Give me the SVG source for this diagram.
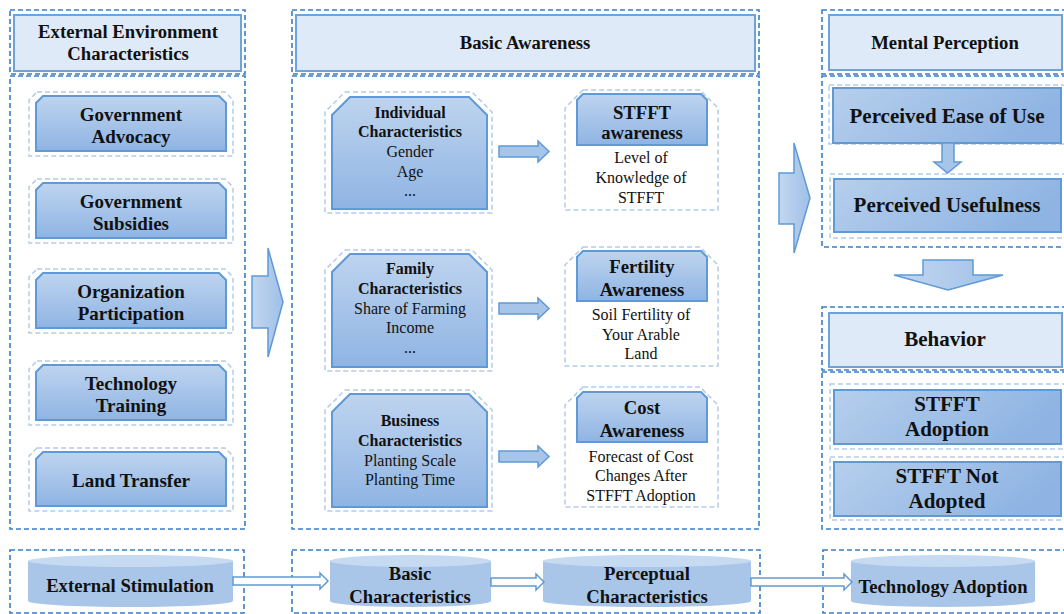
<svg xmlns="http://www.w3.org/2000/svg" width="1064" height="614" viewBox="0 0 1064 614">
<defs>
<linearGradient id="gv" x1="0" y1="0" x2="0" y2="1"><stop offset="0" stop-color="#bed4ef"/><stop offset="1" stop-color="#8fb4e3"/></linearGradient>
<linearGradient id="gh" x1="0" y1="0" x2="1" y2="0.3"><stop offset="0" stop-color="#b6cfec"/><stop offset="1" stop-color="#8fb4e3"/></linearGradient>
<linearGradient id="ga" x1="0" y1="0" x2="1" y2="0"><stop offset="0" stop-color="#c3d7f0"/><stop offset="1" stop-color="#9fc0e8"/></linearGradient>
<style>
.box{fill:none;stroke:#3a7cc7;stroke-width:1.6;stroke-dasharray:5 3}
.lbox{fill:none;stroke:#b3cbe9;stroke-width:1.5;stroke-dasharray:5 3}
.hdr{fill:#deeaf7;stroke:#6ea2da;stroke-width:2}
.node{fill:url(#gv);stroke:#5f9ad6;stroke-width:2}
.pnode{fill:url(#gh);stroke:#5f9ad6;stroke-width:2}
.wnode{fill:#fff;stroke:#b3cbe9;stroke-width:1.5;stroke-dasharray:5 3}
.big{fill:url(#ga);stroke:#5f9ad6;stroke-width:1.5}
.sm{fill:#a7c4e9;stroke:#5f9ad6;stroke-width:1.5}
.hol{fill:#fff;stroke:#5f9ad6;stroke-width:1.5}
.cyl{fill:#a9c6e9}
.cyltop{fill:#c6daf1}
text{font-family:"Liberation Serif","Times New Roman",serif;fill:#111;text-anchor:middle}
.b{font-weight:bold}
.h{font-size:18.7px}
.n{font-size:19px}
.s{font-size:16px}
.p{font-size:21px}
</style>
</defs>

<g id="external-environment">
<rect class="box" x="10" y="10" width="235" height="64"/>
<rect class="hdr" x="14" y="15" width="227" height="56"/>
<text class="b h" x="128" y="38">External Environment</text>
<text class="b h" x="128" y="60">Characteristics</text>
<rect class="box" x="10" y="76" width="235" height="453"/>
</g>

<g id="gov-advocacy">
<polygon class="lbox" points="37,92 225,92 233,100 233,156 29,156 29,100"/>
<polygon class="node" points="43,96 219,96 226,103 226,151 36,151 36,103"/>
<text class="b n" x="131" y="121">Government</text>
<text class="b n" x="131" y="143">Advocacy</text>
</g>
<g id="gov-subsidies">
<polygon class="lbox" points="37,179 225,179 233,187 233,243 29,243 29,187"/>
<polygon class="node" points="43,183 219,183 226,190 226,238 36,238 36,190"/>
<text class="b n" x="131" y="208">Government</text>
<text class="b n" x="131" y="230">Subsidies</text>
</g>
<g id="org-participation">
<polygon class="lbox" points="37,269 225,269 233,277 233,333 29,333 29,277"/>
<polygon class="node" points="43,273 219,273 226,280 226,328 36,328 36,280"/>
<text class="b n" x="131" y="298">Organization</text>
<text class="b n" x="131" y="320">Participation</text>
</g>
<g id="tech-training">
<polygon class="lbox" points="37,361 225,361 233,369 233,425 29,425 29,369"/>
<polygon class="node" points="43,365 219,365 226,372 226,420 36,420 36,372"/>
<text class="b n" x="131" y="390">Technology</text>
<text class="b n" x="131" y="412">Training</text>
</g>
<g id="land-transfer">
<polygon class="lbox" points="37,448 225,448 233,456 233,511 29,511 29,456"/>
<polygon class="node" points="43,452 219,452 226,459 226,506 36,506 36,459"/>
<text class="b n" x="131" y="487">Land Transfer</text>
</g>

<g id="basic-awareness">
<rect class="box" x="292" y="10" width="467" height="64"/>
<rect class="hdr" x="296" y="15" width="459" height="56"/>
<text class="b h" x="525" y="49">Basic Awareness</text>
<rect class="box" x="292" y="76" width="467" height="453"/>
</g>

<g id="individual">
<polygon class="lbox" points="345,92 472,92 492,112 492,213 325,213 325,112"/>
<polygon class="node" points="350,97 469,97 487,115 487,209 332,209 332,115"/>
<text class="b s" x="410" y="118">Individual</text>
<text class="b s" x="410" y="137">Characteristics</text>
<text class="s" x="410" y="157">Gender</text>
<text class="s" x="410" y="177">Age</text>
<text class="s" x="410" y="196">...</text>
</g>
<g id="family">
<polygon class="lbox" points="345,250 472,250 492,270 492,371 325,371 325,270"/>
<polygon class="node" points="350,254 469,254 487,272 487,367 332,367 332,272"/>
<text class="b s" x="410" y="274">Family</text>
<text class="b s" x="410" y="294">Characteristics</text>
<text class="s" x="410" y="314">Share of Farming</text>
<text class="s" x="410" y="333">Income</text>
<text class="s" x="410" y="353">...</text>
</g>
<g id="business">
<polygon class="lbox" points="345,390 472,390 492,410 492,511 325,511 325,410"/>
<polygon class="node" points="350,394 469,394 487,412 487,507 332,507 332,412"/>
<text class="b s" x="410" y="426">Business</text>
<text class="b s" x="410" y="446">Characteristics</text>
<text class="s" x="410" y="466">Planting Scale</text>
<text class="s" x="410" y="485">Planting Time</text>
</g>

<g id="stfft-awareness">
<polygon class="wnode" points="583,90 700,90 718,108 718,210 565,210 565,108"/>
<polygon class="node" points="583,94 701,94 707,100 707,145 577,145 577,100"/>
<text class="b h" x="642" y="119">STFFT</text>
<text class="b h" x="642" y="139">awareness</text>
<text class="s" x="641" y="163">Level of</text>
<text class="s" x="641" y="183">Knowledge of</text>
<text class="s" x="641" y="203">STFFT</text>
</g>
<g id="fertility-awareness">
<polygon class="wnode" points="583,247 700,247 718,265 718,366 565,366 565,265"/>
<polygon class="node" points="583,251 701,251 707,257 707,301 577,301 577,257"/>
<text class="b h" x="642" y="273">Fertility</text>
<text class="b h" x="642" y="296">Awareness</text>
<text class="s" x="641" y="320">Soil Fertility of</text>
<text class="s" x="641" y="340">Your Arable</text>
<text class="s" x="641" y="359">Land</text>
</g>
<g id="cost-awareness">
<polygon class="wnode" points="583,387 700,387 718,405 718,507 565,507 565,405"/>
<polygon class="node" points="583,392 701,392 707,398 707,442 577,442 577,398"/>
<text class="b h" x="642" y="414">Cost</text>
<text class="b h" x="642" y="437">Awareness</text>
<text class="s" x="641" y="462">Forecast of Cost</text>
<text class="s" x="641" y="481">Changes After</text>
<text class="s" x="641" y="501">STFFT Adoption</text>
</g>

<g id="mental-perception">
<rect class="box" x="822" y="10" width="250" height="64"/>
<rect class="hdr" x="829" y="15" width="233" height="55"/>
<text class="b h" x="945" y="49">Mental Perception</text>
<rect class="box" x="822" y="76" width="250" height="171"/>
</g>
<g id="ease-of-use">
<rect class="lbox" x="829" y="85" width="240" height="59"/>
<rect class="pnode" x="833" y="88" width="228" height="55"/>
<text class="b p" x="947" y="123">Perceived Ease of Use</text>
</g>
<g id="usefulness">
<rect class="lbox" x="830" y="174" width="240" height="64"/>
<rect class="pnode" x="834" y="179" width="227" height="53"/>
<text class="b p" x="947" y="212">Perceived Usefulness</text>
</g>

<g id="behavior">
<rect class="box" x="822" y="307" width="250" height="63"/>
<rect class="hdr" x="829" y="313" width="233" height="54"/>
<text class="b p" x="945" y="346">Behavior</text>
<rect class="box" x="822" y="372" width="250" height="157"/>
</g>
<g id="adoption">
<rect class="lbox" x="830" y="384" width="240" height="65"/>
<rect class="pnode" x="834" y="390" width="227" height="54"/>
<text class="b p" x="947" y="411">STFFT</text>
<text class="b p" x="947" y="436">Adoption</text>
</g>
<g id="not-adopted">
<rect class="lbox" x="830" y="457" width="240" height="63"/>
<rect class="pnode" x="834" y="462" width="227" height="54"/>
<text class="b p" x="947" y="483">STFFT Not</text>
<text class="b p" x="947" y="508">Adopted</text>
</g>

<g id="bottom-boxes">
<rect class="box" x="10" y="550" width="234" height="63"/>
<rect class="box" x="292" y="550" width="468" height="63"/>
<rect class="box" x="823" y="550" width="250" height="63"/>
</g>
<g id="external-stimulation">
<path class="cyl" d="M28,561 L28,601 A102.5,6 0 0 0 233,601 L233,561 Z"/>
<ellipse class="cyltop" cx="130.5" cy="561" rx="102.5" ry="6"/>
<text class="b h" x="130" y="592">External Stimulation</text>
</g>
<g id="basic-characteristics">
<path class="cyl" d="M330,561 L330,601 A80.5,6 0 0 0 491,601 L491,561 Z"/>
<ellipse class="cyltop" cx="410.5" cy="561" rx="80.5" ry="6"/>
<text class="b h" x="410" y="580">Basic</text>
<text class="b h" x="410" y="603">Characteristics</text>
</g>
<g id="perceptual-characteristics">
<path class="cyl" d="M543,561 L543,601 A104,6 0 0 0 751,601 L751,561 Z"/>
<ellipse class="cyltop" cx="647" cy="561" rx="104" ry="6"/>
<text class="b h" x="647" y="580">Perceptual</text>
<text class="b h" x="647" y="603">Characteristics</text>
</g>
<g id="technology-adoption">
<path class="cyl" d="M851,561 L851,601 A92,6 0 0 0 1035,601 L1035,561 Z"/>
<ellipse class="cyltop" cx="943" cy="561" rx="92" ry="6"/>
<text class="b h" x="943" y="593">Technology Adoption</text>
</g>

<g id="connectors">
<polygon class="big" points="252,276 268,276 268,248 283,302 268,357 268,328 252,328"/>
<polygon class="big" points="779,173 794,173 794,143 810,198 794,253 794,224 779,224"/>
<polygon class="sm" points="499,146 538,146 538,141 549,151.5 538,162 538,157 499,157"/>
<polygon class="sm" points="499,303 538,303 538,298 549,308.5 538,319 538,314 499,314"/>
<polygon class="sm" points="499,451 538,451 538,446 549,456.5 538,467 538,462 499,462"/>
<polygon class="sm" points="942,143 954,143 954,162 961,162 947.5,173 934,162 942,162"/>
<polygon class="big" points="923,260 973,260 973,275 1003,275 948,290 894,275 923,275"/>
<polygon class="hol" points="233,577 320,577 320,573 328,581 320,589 320,585 233,585"/>
<polygon class="hol" points="491,578 536,578 536,574 544,582 536,590 536,586 491,586"/>
<polygon class="hol" points="751,578 844,578 844,574 852,582 844,590 844,586 751,586"/>
</g>
</svg>
